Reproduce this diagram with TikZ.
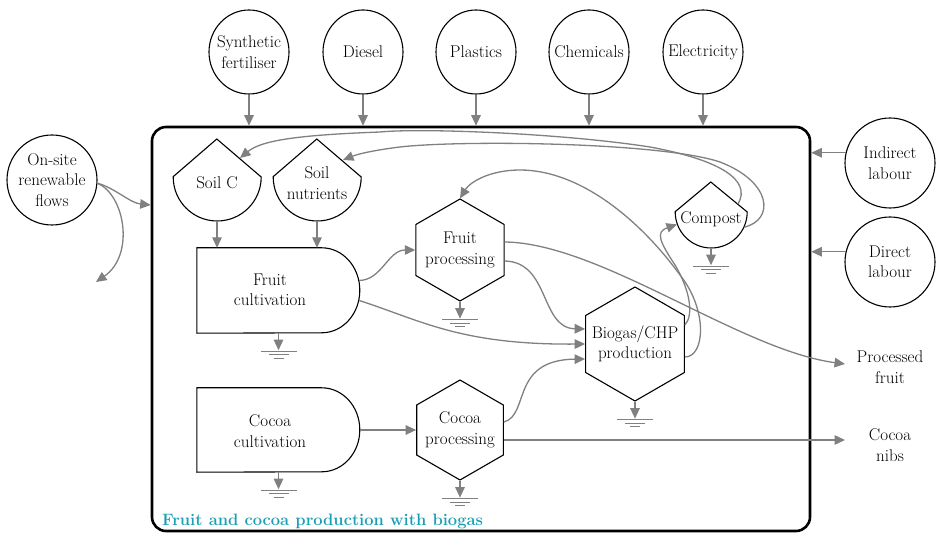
\documentclass[tikz,border=0pt]{standalone}
\usetikzlibrary{arrows.meta,shapes.geometric,calc}
\definecolor{cg}{RGB}{128,128,128}
\definecolor{teal1}{RGB}{25,160,180}
\tikzset{
 txt/.style={font=\fontsize{17}{20.5}\selectfont, align=center, inner sep=0pt},
 circ/.style={draw, line width=1.1pt, ellipse, inner sep=0pt},
 conn/.style={draw=cg, line width=1.3pt, -{Triangle[length=10.5pt,width=9.5pt]}},
 shp/.style={draw, line width=1.1pt},
 hex/.style={shp, regular polygon, regular polygon sides=6, shape border rotate=30, inner sep=0pt},
 gnd/.pic={\draw[conn] (0,0) -- (0,17); \draw[cg, line width=1.1pt] (-18,18) -- (18,18) (-10,21.5) -- (10,21.5) (-5,25) -- (5,25);}
}
\begin{document}
\begin{tikzpicture}[x=1pt,y=-1pt]
\useasboundingbox (0,0) rectangle (937,534);
\node[draw, line width=2.6pt, rounded corners=14pt, minimum width=658pt, minimum height=404pt, inner sep=0pt] (sys) at (481,329) {};

% top inputs
\node[circ, minimum width=80pt, minimum height=84pt] (sf) at (249,52) {};
\node[txt] at (sf) {Synthetic\\fertiliser};
\node[circ, minimum width=80pt, minimum height=84pt] (di) at (363,52) {};
\node[txt] at (di) {Diesel};
\node[circ, minimum width=80pt, minimum height=84pt] (pl) at (476,52) {};
\node[txt] at (pl) {Plastics};
\node[circ, minimum width=80pt, minimum height=84pt] (ch) at (589,52) {};
\node[txt] at (ch) {Chemicals};
\node[circ, minimum width=80pt, minimum height=84pt] (el) at (703,52) {};
\node[txt] at (el) {Electricity};
\foreach \n in {sf,di,pl,ch,el}{\draw[conn] (\n.south) -- (\n.south |- sys.north);}

% left
\node[circ, minimum size=90pt] (os) at (52,180) {};
\node[txt] at (os) {On-site\\renewable\\flows};
\coordinate (osin) at ($(sys.west)+(0,-124)$);
\coordinate (osout) at (96,282);
\draw[conn] (os.-4) .. controls (115,188) and (130,203) .. (osin);
\draw[conn] (os.-4) .. controls (125,195) and (135,255) .. (osout);

% right
\node[circ, minimum size=90pt] (il) at (890,163) {};
\node[txt] at (il) {Indirect\\labour};
\draw[conn] (il.167) -- (il.167 -| sys.east);
\node[circ, minimum size=90pt] (dl) at (890,262) {};
\node[txt] at (dl) {Direct\\labour};
\draw[conn] (dl.167) -- (dl.167 -| sys.east);
\node[txt] (pf) at (890,367) {Processed\\fruit};
\node[txt] (cn) at (890,445) {Cocoa\\nibs};
\coordinate (pfin) at (845,364);
\coordinate (cnin) at (845,440);

% tanks
\node[circle, minimum size=88pt, inner sep=0pt] (soilc) at (217,177) {};
\draw[shp] (soilc.west) -- ++(44,-38) -- (soilc.east) arc[start angle=0, end angle=180, radius=44];
\node[txt] at ($(soilc)+(0,6)$) {Soil C};
\node[circle, minimum size=88pt, inner sep=0pt] (sn) at (317,177) {};
\draw[shp] (sn.west) -- ++(44,-38) -- (sn.east) arc[start angle=0, end angle=180, radius=44];
\node[txt] at ($(sn)+(0,6)$) {Soil\\nutrients};
\node[circle, minimum size=72pt, inner sep=0pt] (cp0) at (711,212) {};
\draw[shp] (cp0.west) -- ++(36,-30) -- (cp0.east) arc[start angle=0, end angle=180, radius=36];
\node[txt] at ($(cp0)+(0,7)$) {Compost};

% cultivation (delay shapes)
\node[minimum width=163pt, minimum height=85pt, inner sep=0pt] (fc) at (278.5,290.5) {};
\draw[shp] (fc.north west) -- ++(125,0) arc[start angle=-90, end angle=90, x radius=38, y radius=42.5] -- (fc.south west) -- cycle;
\node[txt] at (270,290) {Fruit\\cultivation};
\node[minimum width=163pt, minimum height=84pt, inner sep=0pt] (cc) at (278.5,430) {};
\draw[shp] (cc.north west) -- ++(125,0) arc[start angle=-90, end angle=90, x radius=38, y radius=42] -- (cc.south west) -- cycle;
\node[txt] at (270,431) {Cocoa\\cultivation};

% processing
\node[hex, minimum size=102pt] (fp) at (460,250) {};
\node[txt] at (fp) {Fruit\\processing};
\node[hex, minimum size=100pt] (cp) at (460,430) {};
\node[txt] at (cp) {Cocoa\\processing};
\node[hex, minimum size=114pt] (bg) at (635,344) {};
\node[txt] at (bg) {Biogas/CHP\\production};

% grounds
\foreach \n in {fc,cc,fp,cp,bg,cp0}{\pic at (\n.south) {gnd};}

% flows
\draw[conn] (soilc.south) -- (soilc.south |- fc.north);
\draw[conn] (sn.south) -- (sn.south |- fc.north);
\draw[conn] ($(fc.east)+(-1,-10)$) .. controls (382,280) and (388,250) .. (fp.west);
\draw[conn] ($(fc.east)+(-1,10)$) .. controls (420,320) and (460,345) .. (bg.west);
\draw[conn] ($(fp.east)+(0,11)$) .. controls (550,262) and (540,328) .. ($(bg.west)+(0,-15)$);
\draw[conn] ($(fp.east)+(0,-8)$) .. controls (600,243) and (740,350) .. (pfin);
\draw[conn] (cc.east) -- (cc.east -| cp.west);
\draw[conn] ($(cp.east)+(0,-8)$) .. controls (530,415) and (510,360) .. ($(bg.west)+(0,15)$);
\draw[conn] ($(cp.east)+(0,10)$) -- (cnin);
\draw[conn] ($(bg.east)+(0,13)$) .. controls (705,357) and (708,310) .. (680,275) .. controls (640,220) and (580,170) .. (520,170) .. controls (490,170) and (470,182) .. (fp.north);
\draw[conn] ($(bg.east)+(0,-19)$) .. controls (694,315) and (690,290) .. (675,265) .. controls (660,242) and (655,232) .. (cp0.200);
\draw[conn] ($(cp0.center)+(27,-8)$) .. controls (752,180) and (720,160) .. (650,147) .. controls (560,133) and (420,128) .. (380,132) .. controls (300,135) and (262,140) .. ($(soilc.center)+(23,-19)$);
\draw[conn] (cp0.-25) .. controls (775,220) and (772,182) .. (720,162) .. controls (660,142) and (460,140) .. (400,147) .. controls (375,150) and (358,154) .. ($(sn.center)+(26,-17)$);

\node[anchor=base west, inner sep=0pt, text=teal1, font=\fontsize{16.5}{19}\selectfont\bfseries] (lbl) at (162,525) {Fruit and cocoa production with biogas};
\end{tikzpicture}
\end{document}
